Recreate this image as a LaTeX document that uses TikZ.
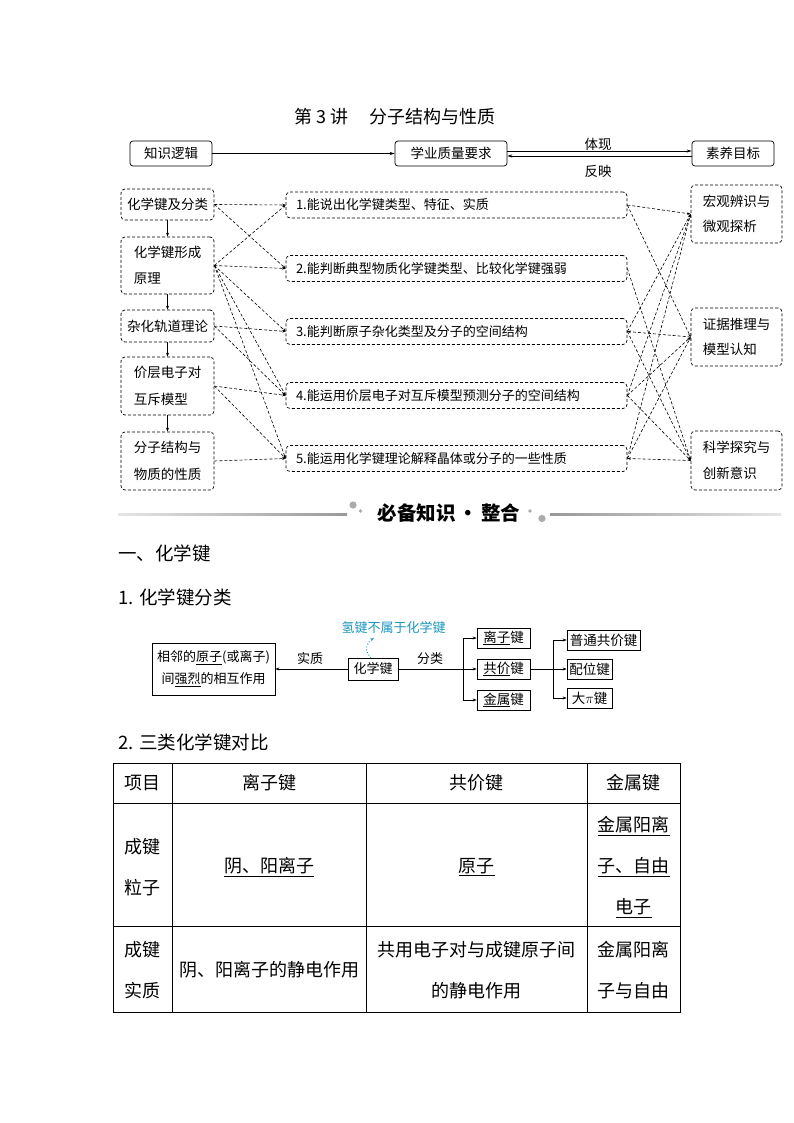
\documentclass[tikz,border=0pt]{standalone}
\usepackage{fontspec}
\setmainfont{Noto Sans CJK SC}
\usetikzlibrary{arrows.meta}
\definecolor{tipblue}{RGB}{25,150,190}
\tikzset{
  dsh/.style={dash pattern=on 3pt off 2pt},
  topbox/.style={draw, rounded corners=3pt, line width=0.7pt, minimum height=25pt, inner sep=0pt, font=\fontsize{13.5}{16}\selectfont},
  lbox/.style={draw, dsh, rounded corners=4pt, line width=0.7pt, minimum width=93pt, inner sep=0pt, align=left, font=\fontsize{13.5}{26.5}\selectfont},
  rbox/.style={lbox, minimum width=91pt, font=\fontsize{13.5}{25.5}\selectfont},
  mbox/.style={draw, dsh, rounded corners=4pt, line width=0.7pt, minimum height=26pt, text width=321pt, inner xsep=10pt, inner ysep=0pt, align=left, font=\fontsize{13}{15}\selectfont},
  link/.style={dsh, line width=0.6pt, -{Stealth[length=3.5pt,width=2.6pt]}},
  vdown/.style={line width=0.6pt, -{Stealth[length=4pt,width=3pt]}},
  toparrow/.style={line width=0.6pt, -{Stealth[length=5pt,width=3pt]}},
  lbl/.style={font=\fontsize{13.5}{16}\selectfont, inner sep=1pt},
  cbox/.style={draw, line width=0.7pt, inner sep=0pt, font=\fontsize{13}{16}\selectfont},
  carrow/.style={line width=0.6pt, -{Stealth[length=4pt,width=3pt]}},
  cline/.style={line width=0.6pt},
  headtxt/.style={anchor=west, inner sep=0pt, font=\fontsize{18.5}{20}\selectfont},
  cell/.style={inner sep=0pt, align=center, font=\fontsize{18}{41}\selectfont},
  tline/.style={line width=0.7pt},
}
\begin{document}
\begin{tikzpicture}[x=1pt,y=-1pt]
\fill[white] (0,0) rectangle (794,1123);
\useasboundingbox (0,0) rectangle (794,1123);

% title
\node[inner sep=0pt, anchor=west, font=\fontsize{18}{20}\selectfont] (title) at (294,117) {第 3 讲\hspace{1.2em}分子结构与性质};

% top row
\node[topbox, minimum width=82pt] (know) at (171,153.5) {知识逻辑};
\node[topbox, minimum width=112pt] (qual) at (451,153.5) {学业质量要求};
\node[topbox, minimum width=82pt] (goal) at (733,153.5) {素养目标};
\draw[toparrow] (know) -- (qual);
\draw[toparrow] ([yshift=2.5pt]qual.east) -- ([yshift=2.5pt]goal.west);
\draw[toparrow] ([yshift=-2.5pt]goal.west) -- ([yshift=-2.5pt]qual.east);
\node[lbl] (tx) at (598,144) {体现};
\node[lbl] (fy) at (598,171) {反映};

% left column
\node[lbox, minimum height=31pt] (L1) at (167.5,204.5) {化学键及分类};
\node[lbox, minimum height=57pt] (L2) at (167.5,265.5) {化学键形成\\原理};
\node[lbox, minimum height=32pt] (L3) at (167.5,326) {杂化轨道理论};
\node[lbox, minimum height=58pt] (L4) at (167.5,386) {价层电子对\\互斥模型};
\node[lbox, minimum height=58pt] (L5) at (167.5,461) {分子结构与\\物质的性质};
\draw[vdown] (L1) -- (L2);
\draw[vdown] (L2) -- (L3);
\draw[vdown] (L3) -- (L4);
\draw[vdown] (L4) -- (L5);

% middle column
\node[mbox] (M1) at (456.5,205) {1.能说出化学键类型、特征、实质};
\node[mbox] (M2) at (456.5,268.5) {2.能判断典型物质化学键类型、比较化学键强弱};
\node[mbox] (M3) at (456.5,331.5) {3.能判断原子杂化类型及分子的空间结构};
\node[mbox] (M4) at (456.5,395.5) {4.能运用价层电子对互斥模型预测分子的空间结构};
\node[mbox] (M5) at (456.5,458.5) {5.能运用化学键理论解释晶体或分子的一些性质};

% right column
\node[rbox, minimum height=58pt] (R1) at (736.5,214) {宏观辨识与\\微观探析};
\node[rbox, minimum height=58pt] (R2) at (736.5,337) {证据推理与\\模型认知};
\node[rbox, minimum height=59pt] (R3) at (736.5,460.5) {科学探究与\\创新意识};

% left links
\draw[link] (L1.east) -- (M1.west);
\draw[link] (L1.east) -- (M2.west);
\draw[link] (L2.east) -- (M1.west);
\draw[link] (L2.east) -- (M2.west);
\draw[link] (L2.east) -- (M3.west);
\draw[link] (L2.east) -- (M4.west);
\draw[link] (L2.east) -- (M5.west);
\draw[link] (L3.east) -- (M3.west);
\draw[link] (L3.east) -- (M4.west);
\draw[link] (L4.east) -- (M4.west);
\draw[link] (L4.east) -- (M5.west);
\draw[link] (L5.east) -- (M5.west);

% right links
\draw[link] (M1.east) -- (R1.west);
\draw[link] (M1.east) -- (R2.west);
\draw[link] (M2.east) -- (R3.west);
\draw[link] (M3.east) -- (R1.west);
\draw[link] (R2.west) -- (M3.east);
\draw[link] (M3.east) -- (R3.west);
\draw[link] (M4.east) -- (R1.west);
\draw[link] (M4.east) -- (R2.west);
\draw[link] (M4.east) -- (R3.west);
\draw[link] (M5.east) -- (R1.west);
\draw[link] (M5.east) -- (R2.west);
\draw[link] (R3.west) -- (M5.east);

% divider
\shade[left color=gray!20, right color=gray!80] (118,513) rectangle (347,515.5);
\shade[left color=gray!80, right color=gray!20] (550,513) rectangle (781,515.5);
\fill[gray!65] (353,505) circle (3.6pt);
\fill[gray!65] (360.5,511) circle (1.8pt);
\fill[gray!65] (530,511) circle (1.8pt);
\fill[gray!65] (542,518.5) circle (3.6pt);
\node[inner sep=0pt, font=\fontsize{19.5}{20}\selectfont\bfseries] (bb) at (449,513) {必备知识\hspace{0.15em}·\hspace{0.15em}整合};

% headings
\node[headtxt] (h1) at (118,553) {一、化学键};
\node[headtxt] (h2) at (118,597) {1. 化学键分类};
\node[headtxt] (h3) at (118,742) {2. 三类化学键对比};

% classification diagram
\node[cbox, minimum width=123pt, minimum height=52pt, align=center, font=\fontsize{13}{22}\selectfont] (def) at (213.5,669) {相邻的\underline{原子}(或离子)\\间\underline{强烈}的相互作用};
\node[cbox, minimum width=50pt, minimum height=22pt] (bond) at (373,669) {化学键};
\node[cbox, minimum width=53pt, minimum height=20pt, font=\fontsize{13.5}{16}\selectfont] (ion) at (503.5,638) {\underline{离子}键};
\node[cbox, minimum width=53pt, minimum height=20pt, font=\fontsize{13.5}{16}\selectfont] (cov) at (503.5,669) {\underline{共价}键};
\node[cbox, minimum width=53pt, minimum height=20pt, font=\fontsize{13.5}{16}\selectfont] (metal) at (503.5,700) {\underline{金属}键};
\node[cbox, minimum width=73pt, minimum height=20pt, font=\fontsize{13.5}{16}\selectfont] (normal) at (603.5,640) {普通共价键};
\node[cbox, minimum width=45pt, minimum height=20pt, font=\fontsize{13.5}{16}\selectfont] (coord) at (589.5,669) {配位键};
\node[cbox, minimum width=45pt, minimum height=20pt, font=\fontsize{13.5}{16}\selectfont] (pib) at (589.5,698) {大$\pi$键};

\node[lbl, font=\fontsize{13}{16}\selectfont] (sz) at (310,659) {实质};
\node[lbl, font=\fontsize{13}{16}\selectfont] (fl) at (430,659) {分类};
\draw[carrow] (bond.west) -- (def.east);

\coordinate (b1) at (463,669);
\coordinate (b1t) at (463,638);
\coordinate (b1b) at (463,700);
\coordinate (b2) at (553,669);
\coordinate (b2t) at (553,640);
\coordinate (b2b) at (553,698);
\draw[cline] (bond.east) -- (b1);
\draw[carrow] (b1) -- (cov.west);
\draw[cline] (b1t) -- (b1b);
\draw[carrow] (b1t) -- (ion.west);
\draw[carrow] (b1b) -- (metal.west);
\draw[cline] (cov.east) -- (b2);
\draw[cline] (b2t) -- (b2b);
\draw[carrow] (b2t) -- (normal.west);
\draw[carrow] (b2) -- (coord.west);
\draw[carrow] (b2b) -- (pib.west);

\node[inner sep=0pt, text=tipblue, font=\fontsize{13}{16}\selectfont] (hb) at (393.5,628) {氢键不属于化学键};
\coordinate (hbend) at (374,638);
\draw[tipblue, dotted, line width=0.9pt, -{Stealth[length=4pt,width=3pt]}] ([xshift=-2pt]bond.north) .. controls (364,651) and (366,643) .. (hbend);

% table
\draw[tline] (113,763) rectangle (680,1012);
\draw[tline] (172,763) -- (172,1012);
\draw[tline] (366,763) -- (366,1012);
\draw[tline] (587,763) -- (587,1012);
\draw[tline] (113,803) -- (680,803);
\draw[tline] (113,926) -- (680,926);

\node[cell] (t11) at (142.5,783) {项目};
\node[cell] (t12) at (269,783) {离子键};
\node[cell] (t13) at (476.5,783) {共价键};
\node[cell] (t14) at (633.5,783) {金属键};

\node[cell] (t21) at (142.5,867) {成键\\粒子};
\node[cell] (t22) at (269,867) {\underline{阴、阳离子}};
\node[cell] (t23) at (476.5,867) {\underline{原子}};
\node[cell] (t24) at (633.5,867) {\underline{金属阳离}\\\underline{子、自由}\\\underline{电子}};

\node[cell] (t31) at (142.5,970) {成键\\实质};
\node[cell] (t32) at (269,970) {阴、阳离子的静电作用};
\node[cell] (t33) at (476.5,970) {共用电子对与成键原子间\\的静电作用};
\node[cell] (t34) at (633.5,970) {金属阳离\\子与自由};
\end{tikzpicture}
\end{document}
